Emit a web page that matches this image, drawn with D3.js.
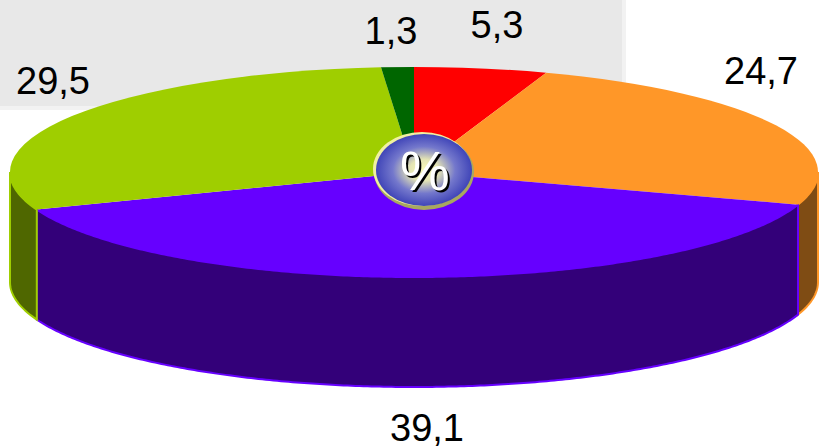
<!DOCTYPE html>
<html>
<head>
<meta charset="utf-8">
<script src="https://cdn.jsdelivr.net/npm/d3@7"></script>
<style>
    html, body { margin: 0; padding: 0; background: #fff; overflow: hidden; }
    svg { display: block; }
    text { font-family: "Liberation Sans", Arial, sans-serif; }
</style>
</head>
<body>
<div id="chart"></div>
<script>
const values = [5.3, 24.7, 39.1, 29.5, 1.3]
const valueLabels = ['5,3', '24,7', '39,1', '29,5', '1,3']
const topColors = ['#ff0000', '#ff9728', '#6600ff', '#9fce00', '#006600']
const sideColors = ['#7f0000', '#7f4c14', '#330079', '#4f6700', '#003300']

const width = 819, height = 446
const cx = 414, cy = 172, rx = 404, ry = 105, depth = 110
const labelAt = [[497, 38], [761, 84], [427, 441], [53, 94], [391, 44]]

const svg = d3.select('#chart').append('svg').attr('width', width).attr('height', height)

const defs = svg.append('defs')
const badgeGrad = defs.append('radialGradient').attr('id', 'badgeGrad')
badgeGrad.append('stop').attr('offset', '0%').attr('stop-color', '#fbfbb8')
badgeGrad.append('stop').attr('offset', '30%').attr('stop-color', '#e4e4b4')
badgeGrad.append('stop').attr('offset', '65%').attr('stop-color', '#7478cc')
badgeGrad.append('stop').attr('offset', '100%').attr('stop-color', '#4045b8')

// grey panel behind the pie
svg.append('rect').attr('x', 0).attr('y', 0).attr('width', 626).attr('height', 110).attr('fill', '#f2f2f2')
svg.append('rect').attr('x', 0).attr('y', 0).attr('width', 622).attr('height', 106).attr('fill', '#e8e8e8')

const pie = d3.pie().sort(null).value(d => d)
const slices = pie(values).map((d, i) => Object.assign(d, {i: i}))

// a pie angle is measured clockwise from the top of the ellipse
const px = a => cx + rx * Math.sin(a)
const py = a => cy - ry * Math.cos(a)

const sideArea = d3.area().x(d => px(d)).y0(d => py(d)).y1(d => py(d) + depth)

// only the front half of the rim can be seen
const front = slices.map(d => {
    const a0 = Math.max(d.startAngle, Math.PI / 2)
    const a1 = Math.min(d.endAngle, Math.PI * 3 / 2)
    return {i: d.i, angles: a1 > a0 ? d3.range(a0, a1, 0.01).concat([a1]) : []}
}).filter(d => d.angles.length)

svg.append('g').selectAll('path')
    .data(front)
    .join('path')
    .attr('d', d => sideArea(d.angles))
    .attr('fill', d => sideColors[d.i])
    .attr('stroke', d => topColors[d.i])
    .attr('stroke-width', 2)

const arc = d3.arc().innerRadius(0).outerRadius(rx)

svg.append('g')
    .attr('transform', `translate(${cx},${cy}) scale(1,${ry / rx})`)
    .selectAll('path')
    .data(slices)
    .join('path')
    .attr('d', arc)
    .attr('fill', d => topColors[d.i])

// badge in the middle
const badge = svg.append('g')
badge.append('ellipse').attr('cx', 424).attr('cy', 172).attr('rx', 50).attr('ry', 38).attr('fill', '#a8a860')
badge.append('ellipse').attr('cx', 422).attr('cy', 169).attr('rx', 49).attr('ry', 37).attr('fill', '#f0f0a0')
badge.append('ellipse').attr('cx', 424).attr('cy', 170).attr('rx', 48).attr('ry', 36).attr('fill', 'url(#badgeGrad)')
badge.append('text').attr('x', 425).attr('y', 190).attr('text-anchor', 'middle')
    .style('font-size', '56px').style('text-shadow', '2px 2px 0 #000').attr('fill', '#fff').text('%')

svg.append('g').selectAll('text')
    .data(slices)
    .join('text')
    .attr('x', d => labelAt[d.i][0])
    .attr('y', d => labelAt[d.i][1])
    .attr('text-anchor', 'middle')
    .attr('fill', '#000')
    .style('font-size', '38px')
    .text(d => valueLabels[d.i])
</script>
</body>
</html>
